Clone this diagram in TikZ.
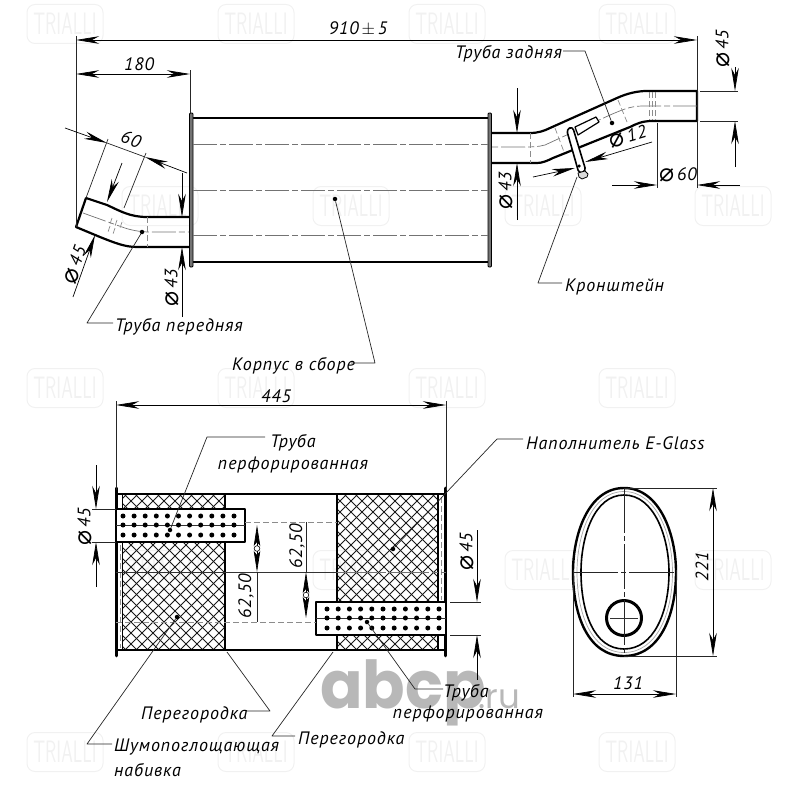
\documentclass[tikz,border=0pt]{standalone}
\usepackage{fontspec}
\setmainfont{PT Sans}[LetterSpace=5]
\newfontfamily\diafont{DejaVu Sans}
\newfontfamily\logofont{Poppins}
\usetikzlibrary{arrows.meta}
\definecolor{logogray}{gray}{0.72}
\definecolor{markgray}{gray}{0.945}
\tikzstyle{drawing}=[x=1pt, y=-1pt, line join=round, font=\fontsize{18}{20}\selectfont\itshape]
\tikzstyle{body}=[line width=2.2pt]
\tikzstyle{flange}=[line width=0.8pt, fill=black!55, rounded corners=1pt]
\tikzstyle{fine}=[line width=0.7pt, black!80]
\tikzstyle{axis}=[line width=0.7pt, black!55, dash pattern=on 24pt off 3pt on 6pt off 3pt]
\tikzstyle{hidden}=[line width=0.7pt, black!45, dash pattern=on 6pt off 3pt]
\tikzstyle{dim}=[line width=0.7pt, -{Stealth[length=23pt,width=7.5pt,inset=7pt]}]
\tikzstyle{dimboth}=[line width=0.7pt, {Stealth[length=23pt,width=7.5pt,inset=7pt]}-{Stealth[length=23pt,width=7.5pt,inset=7pt]}]
\tikzstyle{short}=[line width=0.7pt, {Stealth[length=21pt,width=6.5pt,inset=4pt]}-{Stealth[length=21pt,width=6.5pt,inset=4pt]}]
\tikzstyle{ext}=[line width=0.7pt, black!85]
\tikzstyle{leader}=[line width=0.7pt, black!85]
\tikzstyle{point}=[circle, inner sep=0pt, minimum size=4.5pt, fill=black]
\tikzstyle{lab}=[inner sep=0pt, anchor=west]
\tikzstyle{val}=[inner sep=0pt]
\tikzstyle{wmark}=[inner sep=0pt, minimum width=76pt, minimum height=39pt, draw=markgray, line width=1pt, text=markgray, rounded corners=8pt, font=\fontsize{31}{31}\selectfont\upshape\sffamily]
\tikzstyle{logo}=[inner sep=0pt, anchor=base west, text=logogray]
\newcommand{\dia}[1]{\raisebox{-1.5pt}{\upshape\diafont\fontsize{25}{25}\selectfont ⌀}\,#1}
\newcommand{\hatchbox}[4]{%
	\begin{scope}
	\clip (#1,#2) rectangle (#3,#4);
	\foreach \k in {-300,-289,...,900} {
		\draw[line width=0.85pt, black!90] (\k,400) -- ++(400,400);
		\draw[line width=0.85pt, black!90] (\k,800) -- ++(400,-400);
	}
	\end{scope}}

\begin{document}
\begin{tikzpicture}[drawing]
	\useasboundingbox (0,0) rectangle (800,800);
	%% marks behind the drawing
	\foreach \mx/\my in {65/24,256/24,447/24,637/24,160/206,351/206,543/206,733/206,65/388,256/388,447/388,637/388,160/570,351/570,543/570,733/570,65/752,256/752,447/752,637/752}
		\path (\mx,\my) node[wmark] {\scalebox{0.6}[1]{TRIALLI}};
	\draw (320,708) node[logo, font=\fontsize{66}{66}\selectfont\logofont\bfseries] (abcp) {\scalebox{0.95}[1]{abcp}};
	\draw (478,708) node[logo, font=\fontsize{34}{34}\selectfont\logofont] (ru) {.ru};
	%%%%%% top view: housing
	\draw[body] (193,118) -- (488,118);
	\draw[body] (193,262) -- (488,262);
	\draw[flange] (189.5,113) rectangle (193,267);
	\draw[flange] (488,113) rectangle (491.5,267);
	\draw[axis] (193,144) -- (488,144);
	\draw[axis] (193,190) -- (488,190);
	\draw[axis] (193,235) -- (488,235);
	%% front pipe
	\draw[body] (189,217) -- (147,217) .. controls (130,217) and (120,211) .. (107,205) -- (86,198) -- (76,227) -- (100,237) .. controls (115,243) and (125,247) .. (137,247) -- (189,247);
	\draw[axis] (83,213) -- (122,227) .. controls (130,230) and (140,232) .. (150,232) -- (189,232);
	\draw[hidden] (147,217) -- (147,247);
	\draw[hidden] (112,218) -- (110,224);
	\draw[hidden] (117,220) -- (115,226);
	\draw[hidden] (122,222) -- (120,228);
	\draw[hidden] (110,226) -- (108,232);
	\draw[hidden] (115,228) -- (113,234);
	%% rear pipe
	\draw[body] (491,133) -- (530,133) .. controls (538,133) and (544,131) .. (550,128) -- (617,98) .. controls (628,93) and (638,91) .. (647,91) -- (697,91) -- (697,121) -- (652,121) .. controls (642,121) and (636,124) .. (630,127) -- (553,158) .. controls (547,161) and (542,163) .. (537,163) -- (491,163);
	\draw[axis] (697,106) -- (643,106) .. controls (630,106) and (622,110) .. (610,115) -- (545,145) .. controls (538,147) and (530,147) .. (525,147) -- (491,147);
	\draw[hidden] (530,133) -- (530,163);
	\draw[hidden] (618,100) -- (627,122);
	\draw[hidden] (555,128) -- (564,152);
	\foreach \hx in {649,652,655} {
		\draw[hidden] (\hx,92) -- (\hx,120);
	}
	%% bracket
	\draw[body, line width=1.2pt, fill=white] (575,127) -- (596,117) -- (599,122) -- (578,135) -- cycle;
	\draw[body, line width=1.6pt, fill=white, rounded corners=3.4pt] (566.5,129.5) -- (572.5,126.5) -- (586,171) -- (579,173.5) -- cycle;
	\draw[line width=0.8pt, fill=black!15] (578,173) -- (585,171) -- (588,174) -- (587,177) -- (582,179) -- (579,177) -- cycle;
	%%%%%% top view: dimensions
	\coordinate (totalL) at (76,40);
	\coordinate (totalR) at (697,40);
	\draw[dimboth] (totalL) -- (totalR);
	\draw (358,29) node[val] (total) {910$\,\pm\,$5};
	\draw[ext] (76,36) -- (76,227);
	\draw[ext] (697,36) -- (697,188);
	\coordinate (frontL) at (76,74);
	\coordinate (frontR) at (190,74);
	\draw[dimboth] (frontL) -- (frontR);
	\draw (139,64) node[val] (front) {180};
	\draw[ext] (190,70) -- (190,113);
	%%
	\draw[dim] (65,128) -- (107,143);
	\draw[dim] (187,173) -- (145,157);
	\draw[ext] (107,143) -- (145,157);
	\draw (131,139) node[val, rotate=-20] (bend) {60};
	\draw[ext] (86,198) -- (108,139);
	\draw[ext] (124,208) -- (146,153);
	%%
	\draw[dim] (122,163) -- (107,202);
	\draw[dim] (73,297) -- (95,235);
	\draw (75,265) node[val, rotate=70] (dfl) {\dia{45}};
	\draw[dim] (182,173) -- (182,217);
	\draw[dim] (182,317) -- (182,247);
	\draw (172,288) node[val, rotate=90] (dfp) {\dia{43}};
	%%
	\draw[dim] (517,88) -- (517,133);
	\draw[dim] (517,220) -- (517,163);
	\draw (506,191) node[val, rotate=90] (drp) {\dia{43}};
	\draw[dim] (533,177) -- (575,168);
	\draw[dim] (652,142) -- (585,162);
	\draw (628,137) node[val, rotate=16] (dbr) {\dia{12}};
	\draw[dim] (612,185) -- (657,185);
	\draw[dim] (740,185) -- (697,185);
	\draw[ext] (657,123) -- (657,188);
	\draw (678,175) node[val] (dtail) {\dia{60}};
	\draw[dim] (735,67) -- (735,91);
	\draw[dim] (735,167) -- (735,121);
	\draw[ext] (700,91) -- (738,91);
	\draw[ext] (700,121) -- (738,121);
	\draw (723,49) node[val, rotate=90] (dend) {\dia{45}};
	%%%%%% top view: leaders
	\draw (142,232) node[point] (p1) {};
	\draw (115,327) node[lab] (l1) {Труба передняя};
	\coordinate (k1) at (87,323);
	\draw[leader] (p1) -- (k1) -- (113,323);
	\draw (335,199) node[point] (p2) {};
	\draw (232,366) node[lab] (l2) {Корпус в сборе};
	\coordinate (k2) at (375,363);
	\draw[leader] (p2) -- (k2) -- (351,363);
	\draw (612,123) node[point] (p3) {};
	\draw (455,54) node[lab] (l3) {Труба задняя};
	\coordinate (k3) at (585,51);
	\draw[leader] (p3) -- (k3) -- (563,51);
	\draw (579,166) node[point, minimum size=3.5pt] (p4) {};
	\draw (565,287) node[lab] (l4) {Кронштейн};
	\coordinate (k4) at (538,283);
	\draw[leader] (577,177) -- (k4) -- (562,283);
	%%%%%% section: packing
	\hatchbox{123}{494}{225}{509}
	\hatchbox{123}{542}{225}{650}
	\hatchbox{337}{494}{438}{602}
	\hatchbox{337}{635}{438}{650}
	%% section: shell
	\draw[body] (116,494) -- (446,494);
	\draw[body] (116,650) -- (446,650);
	\draw[body, line width=2.6pt, line cap=round] (116.5,488) -- (116.5,656);
	\draw[body, line width=2.6pt, line cap=round] (445.5,488) -- (445.5,656);
	\draw[body] (225,494) -- (225,650);
	\draw[body] (337,494) -- (337,650);
	\draw[body] (438,494) -- (438,650);
	\draw[body, line width=1.2pt] (122.5,494) -- (122.5,650);
	\draw[hidden] (120,545) -- (120,648);
	\draw[hidden] (441.5,497) -- (441.5,600);
	%% section: pipes
	\draw[body, fill=white] (116,509) rectangle (245,542);
	\draw[body, fill=white] (316,602) rectangle (446,635);
	\draw[fine] (116,525) -- (245,525);
	\draw[fine] (316,618) -- (446,618);
	\foreach \c in {0,...,10} {
		\foreach \r in {516,525,535} {
			\fill (123+11.1*\c,\r) circle (2.5pt);
		}
		\foreach \r in {609,618,628} {
			\fill (327+11.2*\c,\r) circle (2.5pt);
		}
	}
	%% section: axes
	\draw[fine] (116,572) -- (337,572);
	\draw[axis, dash pattern=on 40pt off 3pt on 6pt off 3pt] (337,572) -- (446,572);
	\draw[hidden] (245,522) -- (337,522);
	\draw[hidden] (116,622) -- (316,622);
	%%%%%% section: dimensions
	\coordinate (overL) at (116,405);
	\coordinate (overR) at (446,405);
	\draw[dimboth] (overL) -- (overR);
	\draw (276,396) node[val] (over) {445};
	\draw[ext] (116,401) -- (116,490);
	\draw[ext] (446,401) -- (446,490);
	%%
	\draw[dim] (96,465) -- (96,509);
	\draw[dim] (96,587) -- (96,542);
	\draw[ext] (92,509) -- (116,509);
	\draw[ext] (92,542) -- (116,542);
	\draw (85,527) node[val, rotate=90] (din) {\dia{45}};
	\draw[dim] (477,530) -- (477,602);
	\draw[dim] (477,680) -- (477,635);
	\draw[ext] (450,602) -- (481,602);
	\draw[ext] (450,635) -- (481,635);
	\draw (467,552) node[val, rotate=90] (dout) {\dia{45}};
	%%
	\draw[short] (257,525) -- (257,572);
	\draw[ext] (257,572) -- (257,622);
	\draw[fill=white, line width=0.6pt] (257,548.5) circle (2.8pt);
	\draw (246,596) node[val, rotate=90] (off1) {62,50};
	\draw[ext] (306,522) -- (306,572);
	\draw[short] (306,572) -- (306,618);
	\draw[fill=white, line width=0.6pt] (306,595) circle (2.8pt);
	\draw (297,546) node[val, rotate=90] (off2) {62,50};
	%%%%%% section: leaders
	\draw (170,530) node[point] (p5) {};
	\draw (293,443) node[val] (l5a) {Труба};
	\draw (293,465) node[val] (l5b) {перфорированная};
	\coordinate (k5) at (207,437);
	\draw[leader] (p5) -- (k5) -- (265,437);
	\draw (393,549) node[point] (p6) {};
	\draw (526,443) node[lab] (l6) {Наполнитель E-Glass};
	\coordinate (k6) at (497,439);
	\draw[leader] (p6) -- (k6) -- (523,439);
	\draw (177,617) node[point] (p7) {};
	\draw (114,747) node[lab] (l7a) {Шумопоглощающая};
	\draw (114,770) node[lab] (l7b) {набивка};
	\coordinate (k7) at (87,744);
	\draw[leader] (p7) -- (k7) -- (112,744);
	\draw (141,715) node[lab] (l8) {Перегородка};
	\coordinate (k8) at (270,711);
	\draw[leader] (227,652) -- (k8) -- (247,711);
	\draw (298,740) node[lab] (l9) {Перегородка};
	\coordinate (k9) at (272,736);
	\draw[leader] (333,652) -- (k9) -- (295,736);
	\draw (367,622) node[point] (p10) {};
	\draw (466,693) node[val] (l10a) {Труба};
	\draw (468,714) node[val] (l10b) {перфорированная};
	\coordinate (k10) at (415,689);
	\draw[leader] (p10) -- (k10) -- (443,689);
	%%%%%% end view
	\draw[body, line width=2.4pt] (624,488) .. controls (660,488) and (676,535) .. (676,572) .. controls (676,615) and (660,656) .. (624,656) .. controls (588,656) and (573,615) .. (573,572) .. controls (573,535) and (588,488) .. (624,488) -- cycle;
	\draw[line width=1.6pt] (624,495) .. controls (654,495) and (669,537) .. (669,572) .. controls (669,612) and (654,649) .. (624,649) .. controls (594,649) and (581,612) .. (581,572) .. controls (581,537) and (594,495) .. (624,495) -- cycle;
	\draw[line width=0.7pt, black!35] (624,491.5) .. controls (657,491.5) and (672.5,536) .. (672.5,572) .. controls (672.5,613) and (657,652.5) .. (624,652.5) .. controls (591,652.5) and (577,613) .. (577,572) .. controls (577,536) and (591,491.5) .. (624,491.5) -- cycle;
	\draw[line width=3pt] (624,618) circle (17.5pt);
	\draw[axis, black!85, dash pattern=on 45pt off 3pt on 5pt off 3pt] (624,488) -- (624,656);
	\draw[axis, black!85, dash pattern=on 45pt off 3pt on 5pt off 3pt] (573,572) -- (676,572);
	\draw[fine] (610,618) -- (638,618);
	%%
	\coordinate (tallT) at (713,488);
	\coordinate (tallB) at (713,656);
	\draw[dimboth] (tallT) -- (tallB);
	\draw (702,567) node[val, rotate=90] (tall) {221};
	\draw[ext] (624,488) -- (717,488);
	\draw[ext] (624,656) -- (717,656);
	\coordinate (wideL) at (573,694);
	\coordinate (wideR) at (676,694);
	\draw[dimboth] (wideL) -- (wideR);
	\draw (628,683) node[val] (wide) {131};
	\draw[ext] (573,570) -- (573,697);
	\draw[ext] (676,570) -- (676,697);
\end{tikzpicture}
\end{document}
